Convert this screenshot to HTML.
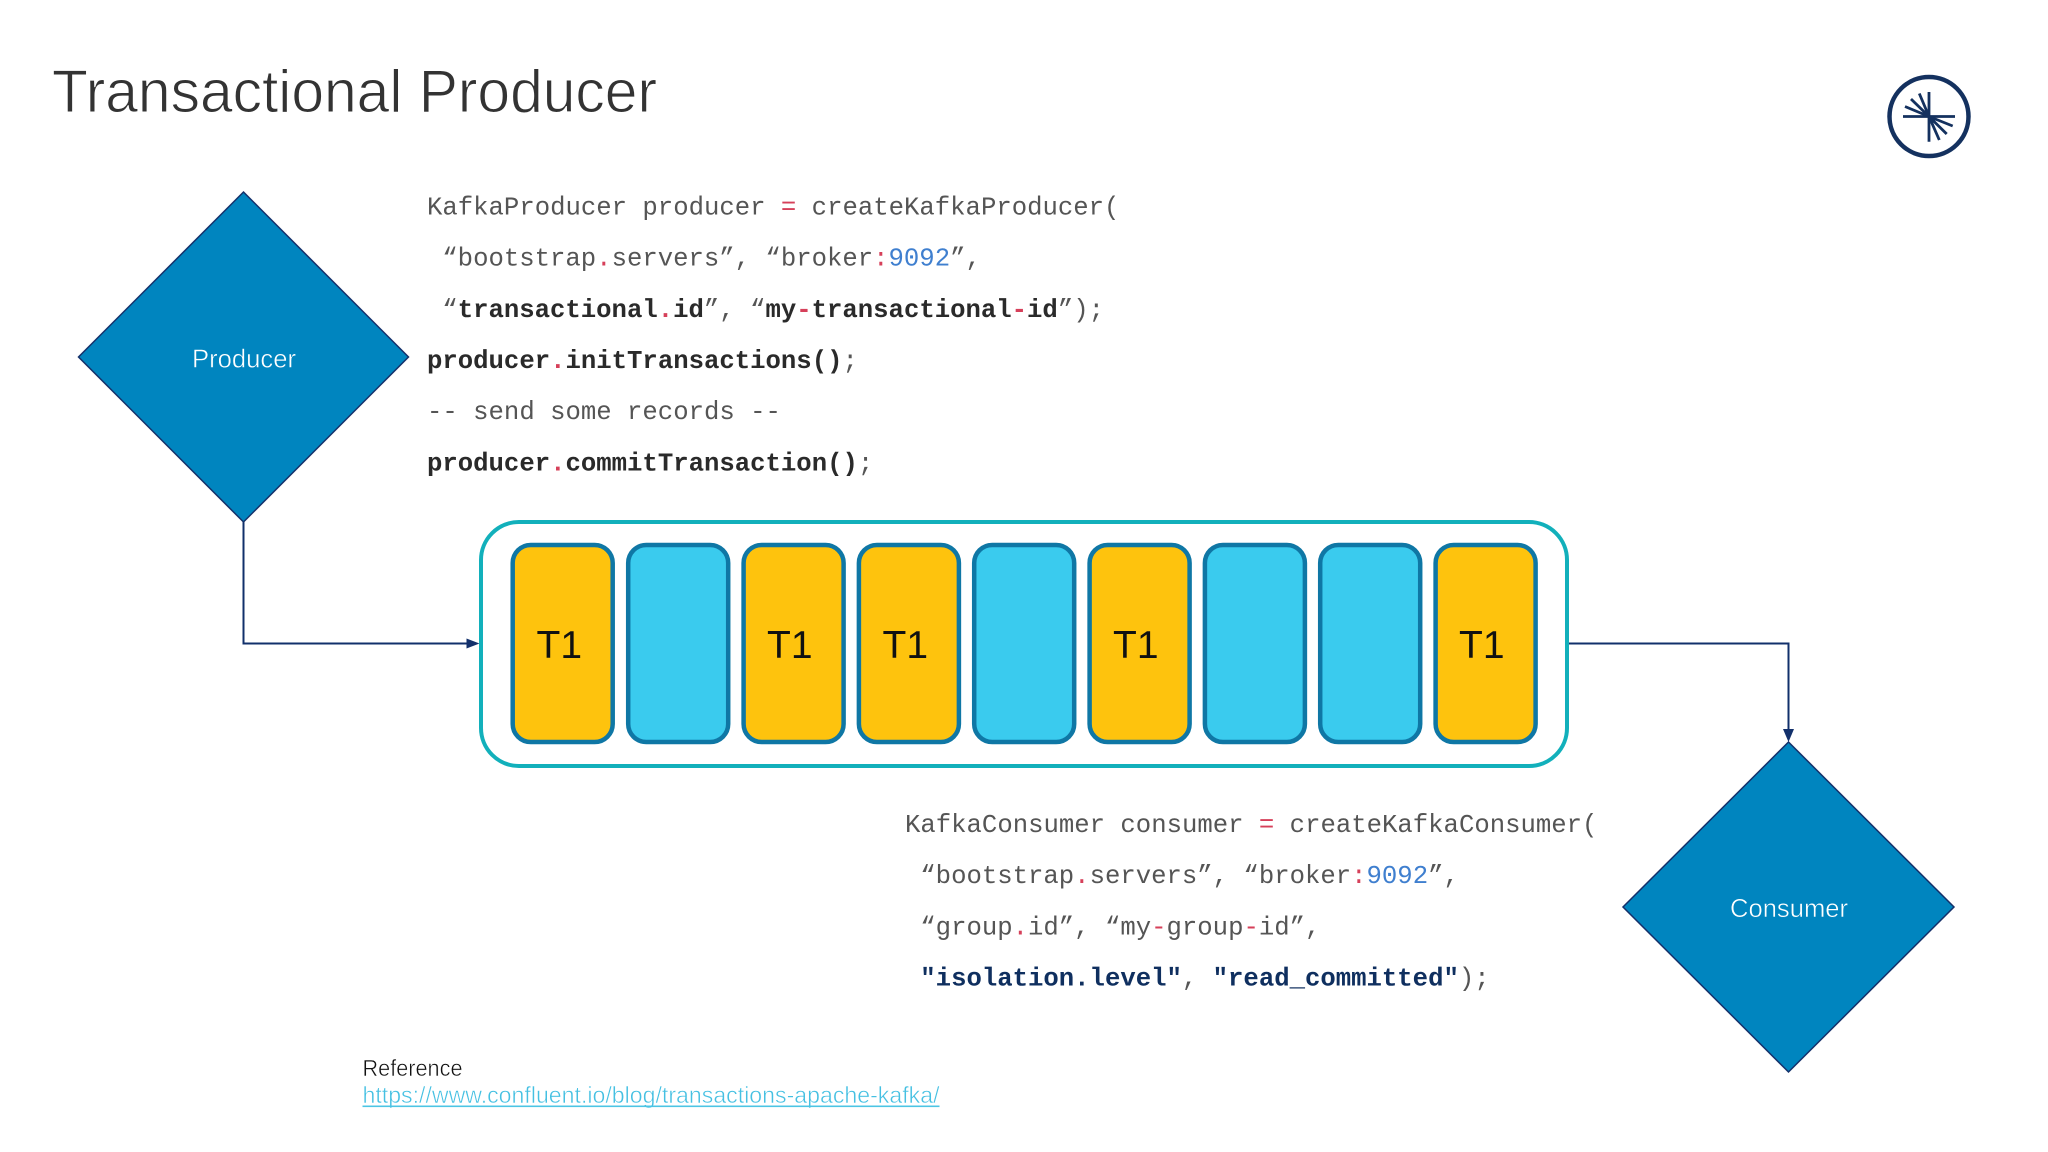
<!DOCTYPE html>
<html><head><meta charset="utf-8"><title>Transactional Producer</title>
<style>
html,body{margin:0;padding:0;background:#fff;width:2048px;height:1152px;overflow:hidden}
svg{display:block}
.c{font-family:"Liberation Mono",monospace;font-size:25.65px;fill:#555}
.b{font-weight:700;fill:#2a2a2a}
.n{font-weight:700;fill:#0f2f5f}
.r{fill:#d6405a}
.u{fill:#3f7fcf}
.s{font-family:"Liberation Sans",sans-serif}
.t1{font-family:"Liberation Sans",sans-serif;font-size:39px;fill:#111}
</style></head><body>
<svg width="2048" height="1152" viewBox="0 0 2048 1152" xmlns="http://www.w3.org/2000/svg">
<rect width="2048" height="1152" fill="#fff"/>
<text class="s" x="52" y="112" font-size="60" fill="#333" stroke="#fff" stroke-width="1" textLength="605" lengthAdjust="spacingAndGlyphs">Transactional Producer</text>

<g fill="none" stroke="#12306b" stroke-width="2">
<path d="M243.5 522V643.5H468"/>
<path d="M1567 643.5H1788.5V730"/>
</g>
<path d="M479.5 643.5L466.5 638.5V648.5Z" fill="#12306b"/>
<path d="M1788.5 742L1783 729H1794Z" fill="#12306b"/>

<path d="M243.5 192L408.5 357L243.5 522L78.5 357Z" fill="#0085bf" stroke="#14306a" stroke-width="1.5"/>
<path d="M1788.5 742L1954 907L1788.5 1072L1623 907Z" fill="#0085bf" stroke="#14306a" stroke-width="1.5"/>
<text class="s" x="192" y="367.5" font-size="26" fill="#fff" stroke="#0085bf" stroke-width=".5" textLength="104" lengthAdjust="spacingAndGlyphs">Producer</text>
<text class="s" x="1730" y="917" font-size="26" fill="#fff" stroke="#0085bf" stroke-width=".5" textLength="118" lengthAdjust="spacingAndGlyphs">Consumer</text>

<rect x="481" y="522" width="1086" height="244" rx="38" ry="38" fill="#fff" stroke="#12b0bb" stroke-width="4"/>
<g stroke="#0f77a5" stroke-width="4.5">
<rect x="512.7" y="545" width="100" height="197" rx="18" fill="#fec30d"/>
<rect x="628.2" y="545" width="100" height="197" rx="18" fill="#3acbee"/>
<rect x="743.6" y="545" width="100" height="197" rx="18" fill="#fec30d"/>
<rect x="858.9" y="545" width="100" height="197" rx="18" fill="#fec30d"/>
<rect x="974.2" y="545" width="100" height="197" rx="18" fill="#3acbee"/>
<rect x="1089.6" y="545" width="100" height="197" rx="18" fill="#fec30d"/>
<rect x="1204.9" y="545" width="100" height="197" rx="18" fill="#3acbee"/>
<rect x="1320.2" y="545" width="100" height="197" rx="18" fill="#3acbee"/>
<rect x="1435.6" y="545" width="100" height="197" rx="18" fill="#fec30d"/>
</g>
<text class="t1" x="536.5" y="658">T1</text>
<text class="t1" x="767" y="658">T1</text>
<text class="t1" x="882.5" y="658">T1</text>
<text class="t1" x="1113" y="658">T1</text>
<text class="t1" x="1459" y="658">T1</text>

<text class="c" x="427" y="214.5">KafkaProducer producer <tspan class="r">=</tspan> createKafkaProducer(</text>
<text class="c" x="442.3" y="265.7">“bootstrap<tspan class="r">.</tspan>servers”, “broker<tspan class="r">:</tspan><tspan class="u">9092</tspan>”,</text>
<text class="c" x="442.3" y="316.9">“<tspan class="b">transactional</tspan><tspan class="r" font-weight="700">.</tspan><tspan class="b">id</tspan>”, “<tspan class="b">my</tspan><tspan class="r" font-weight="700">-</tspan><tspan class="b">transactional</tspan><tspan class="r" font-weight="700">-</tspan><tspan class="b">id</tspan>”);</text>
<text class="c" x="427" y="368"><tspan class="b">producer</tspan><tspan class="r" font-weight="700">.</tspan><tspan class="b">initTransactions()</tspan>;</text>
<text class="c" x="427" y="419.2">-- send some records --</text>
<text class="c" x="427" y="470.5"><tspan class="b">producer</tspan><tspan class="r" font-weight="700">.</tspan><tspan class="b">commitTransaction()</tspan>;</text>

<text class="c" x="905" y="832">KafkaConsumer consumer <tspan class="r">=</tspan> createKafkaConsumer(</text>
<text class="c" x="920.3" y="883.2">“bootstrap<tspan class="r">.</tspan>servers”, “broker<tspan class="r">:</tspan><tspan class="u">9092</tspan>”,</text>
<text class="c" x="920.3" y="934.4">“group<tspan class="r">.</tspan>id”, “my<tspan class="r">-</tspan>group<tspan class="r">-</tspan>id”,</text>
<text class="c" x="920.3" y="985.6"><tspan class="n">"isolation.level"</tspan>, <tspan class="n">"read_committed"</tspan>);</text>

<text class="s" x="362.5" y="1076" font-size="23" fill="#111" stroke="#fff" stroke-width=".5" textLength="100" lengthAdjust="spacingAndGlyphs">Reference</text>
<text class="s" x="362.5" y="1103" font-size="23" fill="#45c0e2" stroke="#fff" stroke-width=".5" textLength="577" lengthAdjust="spacingAndGlyphs">https://www.confluent.io/blog/transactions-apache-kafka/</text>
<rect x="362.5" y="1105.5" width="577" height="1.6" fill="#4cc5e4"/>

<g fill="none" stroke="#14315f">
<circle cx="1929" cy="116.5" r="39.5" stroke-width="4.5"/>
<g stroke-width="2.8">
<path d="M1929 92V141.7M1903 116.5H1955"/>
<path d="M1929 116.5L1919.3 93.5M1929 116.5L1911 99M1929 116.5L1905 106.5"/>
<path d="M1929 116.5L1939.3 140M1929 116.5L1946.7 134M1929 116.5L1952.7 126"/>
</g>
</g>
</svg>
</body></html>
